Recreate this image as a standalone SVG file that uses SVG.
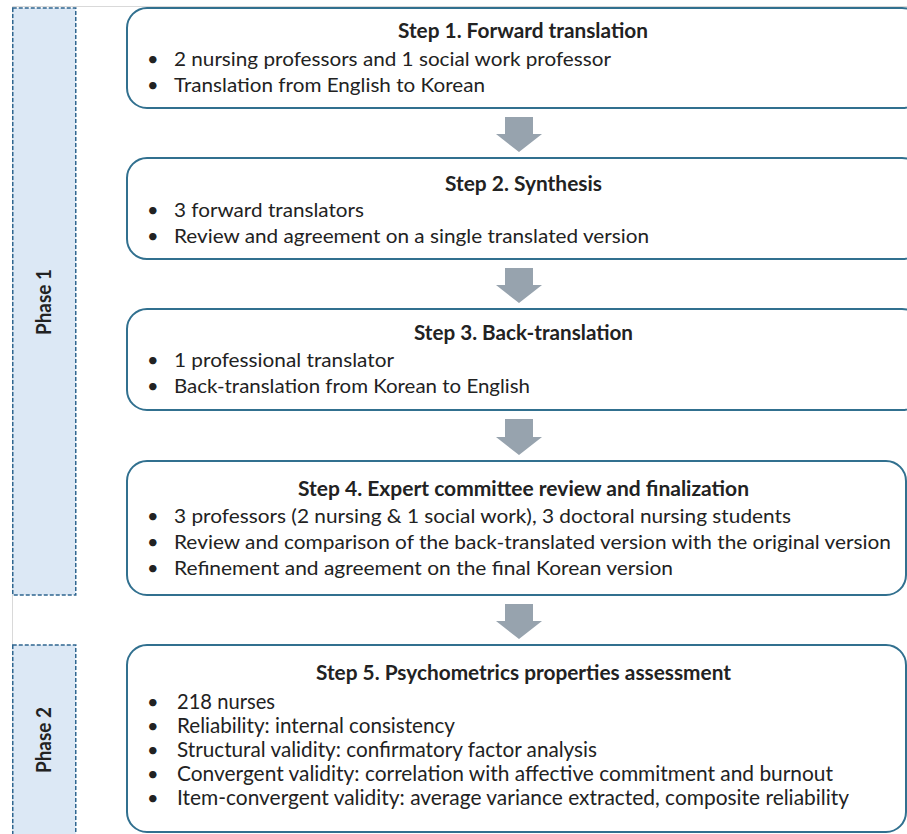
<svg xmlns="http://www.w3.org/2000/svg" width="907" height="834" viewBox="0 0 907 834">
<style>
.bg{fill:#ffffff}
.frame{stroke:#d9d9d9;stroke-width:1;fill:none}
.phase{fill:#dce8f5;stroke:#2f6690;stroke-width:1.5;stroke-dasharray:4 2}
.box{fill:#ffffff;stroke:#31708f;stroke-width:2}
.arrow{fill:#97a3ae}
text{font-family:Lato,"Open Sans","Liberation Sans",sans-serif;fill:#222222;font-size:20px}
.t{font-weight:bold}
.c{font-size:21.5px}
.ph{font-weight:bold;text-anchor:middle;font-size:21px}
</style>
<rect class="bg" x="0" y="0" width="907" height="834"/>
<path class="frame" d="M12.5 834 V6.5 H907"/>
<g id="phase1">
<rect class="phase" x="12.75" y="8" width="63" height="587"/>
<text class="ph" transform="translate(51,302) rotate(-90)" textLength="66" lengthAdjust="spacingAndGlyphs">Phase 1</text>
</g>
<g id="phase2">
<rect class="phase" x="12.75" y="645" width="63" height="200"/>
<text class="ph" transform="translate(51,740) rotate(-90)" textLength="66" lengthAdjust="spacingAndGlyphs">Phase 2</text>
</g>
<g id="step1">
<rect class="box" x="127" y="8" width="795" height="100" rx="20"/>
<text class="t" x="398" y="38" textLength="250" lengthAdjust="spacingAndGlyphs">Step 1. Forward translation</text>
<text x="147" y="66">•</text><text x="174" y="66" textLength="437" lengthAdjust="spacingAndGlyphs">2 nursing professors and 1 social work professor</text>
<text x="147" y="92">•</text><text x="174" y="92" textLength="311" lengthAdjust="spacingAndGlyphs">Translation from English to Korean</text>
</g>
<g id="step2">
<rect class="box" x="127" y="158" width="795" height="101" rx="20"/>
<text class="t" x="445" y="191" textLength="157" lengthAdjust="spacingAndGlyphs">Step 2. Synthesis</text>
<text x="147" y="217">•</text><text x="174" y="217" textLength="190" lengthAdjust="spacingAndGlyphs">3 forward translators</text>
<text x="147" y="243">•</text><text x="174" y="243" textLength="475" lengthAdjust="spacingAndGlyphs">Review and agreement on a single translated version</text>
</g>
<g id="step3">
<rect class="box" x="127" y="309" width="795" height="101" rx="20"/>
<text class="t" x="414" y="340" textLength="219" lengthAdjust="spacingAndGlyphs">Step 3. Back-translation</text>
<text x="147" y="367">•</text><text x="174" y="367" textLength="220" lengthAdjust="spacingAndGlyphs">1 professional translator</text>
<text x="147" y="393">•</text><text x="174" y="393" textLength="356" lengthAdjust="spacingAndGlyphs">Back-translation from Korean to English</text>
</g>
<g id="step4">
<rect class="box" x="127" y="461" width="779" height="134" rx="20"/>
<text class="t" x="298" y="496" textLength="451" lengthAdjust="spacingAndGlyphs">Step 4. Expert committee review and finalization</text>
<text x="147" y="523">•</text><text x="174" y="523" textLength="617" lengthAdjust="spacingAndGlyphs">3 professors (2 nursing &amp; 1 social work), 3 doctoral nursing students</text>
<text x="147" y="549">•</text><text x="174" y="549" textLength="717" lengthAdjust="spacingAndGlyphs">Review and comparison of the back-translated version with the original version</text>
<text x="147" y="575">•</text><text x="174" y="575" textLength="499" lengthAdjust="spacingAndGlyphs">Refinement and agreement on the final Korean version</text>
</g>
<g id="step5">
<rect class="box" x="127" y="645" width="779" height="187" rx="20"/>
<text class="t" x="316" y="680" textLength="415" lengthAdjust="spacingAndGlyphs">Step 5. Psychometrics properties assessment</text>
<text x="147" y="709">•</text><text class="c" x="177" y="709" textLength="98" lengthAdjust="spacingAndGlyphs">218 nurses</text>
<text x="147" y="733">•</text><text class="c" x="177" y="733" textLength="278" lengthAdjust="spacingAndGlyphs">Reliability: internal consistency</text>
<text x="147" y="757">•</text><text class="c" x="177" y="757" textLength="420" lengthAdjust="spacingAndGlyphs">Structural validity: confirmatory factor analysis</text>
<text x="147" y="781">•</text><text class="c" x="177" y="781" textLength="656" lengthAdjust="spacingAndGlyphs">Convergent validity: correlation with affective commitment and burnout</text>
<text x="147" y="805">•</text><text class="c" x="177" y="805" textLength="672" lengthAdjust="spacingAndGlyphs">Item-convergent validity: average variance extracted, composite reliability</text>
</g>
<g id="connectors">
<polygon class="arrow" points="505,117 533,117 533,134 542,134 519,152 496,134 505,134"/>
<polygon class="arrow" points="505,268 533,268 533,285 542,285 519,303 496,285 505,285"/>
<polygon class="arrow" points="505,419 533,419 533,437 542,437 519,455 496,437 505,437"/>
<polygon class="arrow" points="505,604 533,604 533,621 542,621 519,639 496,621 505,621"/>
</g>
</svg>
